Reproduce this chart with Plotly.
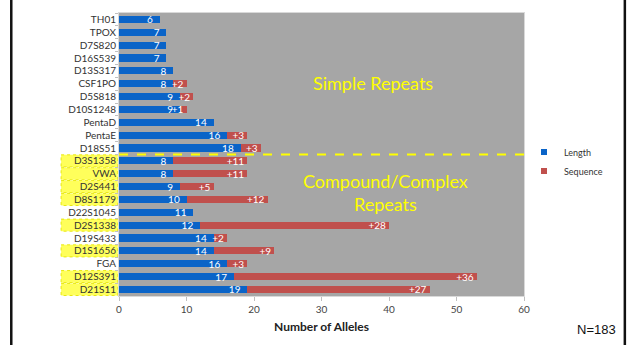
import plotly.graph_objects as go

loci = ["TH01", "TPOX", "D7S820", "D16S539", "D13S317", "CSF1PO", "D5S818", "D10S1248",
        "PentaD", "PentaE", "D18S51", "D3S1358", "VWA", "D2S441", "D8S1179", "D22S1045",
        "D2S1338", "D19S433", "D1S1656", "FGA", "D12S391", "D21S11"]
length_alleles = [6, 7, 7, 7, 8, 8, 9, 9, 14, 16, 18, 8, 8, 9, 10, 11, 12, 14, 14, 16, 17, 19]
sequence_alleles = [0, 0, 0, 0, 0, 2, 2, 1, 0, 3, 3, 11, 11, 5, 12, 0, 28, 2, 9, 3, 36, 27]
highlighted = ["D3S1358", "VWA", "D2S441", "D8S1179", "D2S1338", "D1S1656", "D12S391", "D21S11"]
x_ticks = [0, 10, 20, 30, 40, 50, 60]

BLUE = "#0a64c8"
RED = "#c0504d"
FONT = "Lato"
PAD = "\u00a0\u2009"

fig = go.Figure()
fig.add_trace(go.Bar(
    y=loci, x=length_alleles, orientation="h", name="Length",
    marker=dict(color=BLUE, line=dict(width=0)),
    text=[str(v) + PAD for v in length_alleles], textposition="inside", textangle=0,
    insidetextanchor="end", constraintext="none",
    textfont=dict(color="white", size=10, family=FONT), showlegend=False,
))
fig.add_trace(go.Bar(
    y=loci, x=sequence_alleles, orientation="h", name="Sequence",
    marker=dict(color=RED, line=dict(width=0)),
    text=[("+%d" % v) if v else "" for v in sequence_alleles], textposition="inside", textangle=0,
    insidetextanchor="end", constraintext="none",
    textfont=dict(color="white", size=10, family=FONT), showlegend=False,
))
# legend entries with small square markers
for nm, col in [("Length", BLUE), ("Sequence", RED)]:
    fig.add_trace(go.Scatter(x=[None], y=[None], mode="markers", name=nm,
                             marker=dict(symbol="square", size=6, color=col)))

shapes = []
# highlight boxes behind compound/complex locus labels
for name in highlighted:
    i = loci.index(name)
    shapes.append(dict(type="rect", xref="paper", yref="y",
                       x0=-0.143, x1=-0.003, y0=i - 0.47, y1=i + 0.47,
                       fillcolor="rgba(255,255,50,0.8)",
                       line=dict(color="rgba(230,230,0,0.9)", width=1, dash="dot"),
                       layer="below"))
# dashed divider between simple and compound repeats
split = loci.index("D3S1358") - 0.5
shapes.append(dict(type="line", xref="paper", yref="y", x0=0, x1=1, y0=split, y1=split,
                   line=dict(color="#ffff00", width=2, dash="dash")))
# frame lines
for xp in [-0.266, 1.249]:
    shapes.append(dict(type="line", xref="paper", yref="paper", x0=xp, x1=xp, y0=-1, y1=2,
                       line=dict(color="#111111", width=2.5)))

fig.update_layout(
    width=629, height=345,
    margin=dict(l=119, r=105, t=13, b=49),
    barmode="stack", bargap=0.45,
    plot_bgcolor="#a6a6a6", paper_bgcolor="white",
    font=dict(family=FONT, size=10, color="#333333"),
    shapes=shapes,
    legend=dict(x=1.0, y=0.56, xanchor="left", yanchor="top", traceorder="normal",
                font=dict(size=9, color="#333333", family=FONT),
                bgcolor="rgba(0,0,0,0)", itemwidth=30, tracegroupgap=0),
    xaxis=dict(range=[0, 60], tickvals=x_ticks, showgrid=False, zeroline=False,
               showline=True, linecolor="#d9d9d9", linewidth=1, mirror=True,
               ticks="outside", ticklen=4, tickcolor="#bfbfbf",
               tickfont=dict(size=10, color="#444444", family=FONT),
               title=dict(text="<b>Number of Alleles</b>", font=dict(size=12, color="#222222", family=FONT),
                          standoff=8)),
    yaxis=dict(categoryorder="array", categoryarray=loci, autorange="reversed",
               showgrid=False, showline=True, linecolor="#d9d9d9", linewidth=1, mirror=True,
               ticks="outside", ticklen=3, tickcolor="#bfbfbf", tickson="boundaries",
               tickfont=dict(size=10, color="#333333", family=FONT)),
    annotations=[
        dict(text="Simple Repeats", xref="paper", yref="paper", x=0.627, y=0.753,
             xanchor="center", yanchor="middle",
             showarrow=False, font=dict(size=18, color="#ffff00", family=FONT)),
        dict(text="Compound/Complex<br>Repeats", xref="paper", yref="paper", x=0.657, y=0.367,
             xanchor="center", yanchor="middle",
             showarrow=False, font=dict(size=18, color="#ffff00", family=FONT)),
        dict(text="N=183", xref="paper", yref="paper", x=1.232, y=-0.12,
             xanchor="right", yanchor="middle", showarrow=False,
             font=dict(size=13, color="#111111", family="Liberation Sans")),
    ],
)
fig.write_html("out.html", post_script="document.body.style.margin='0';",
               config={"displayModeBar": False})
